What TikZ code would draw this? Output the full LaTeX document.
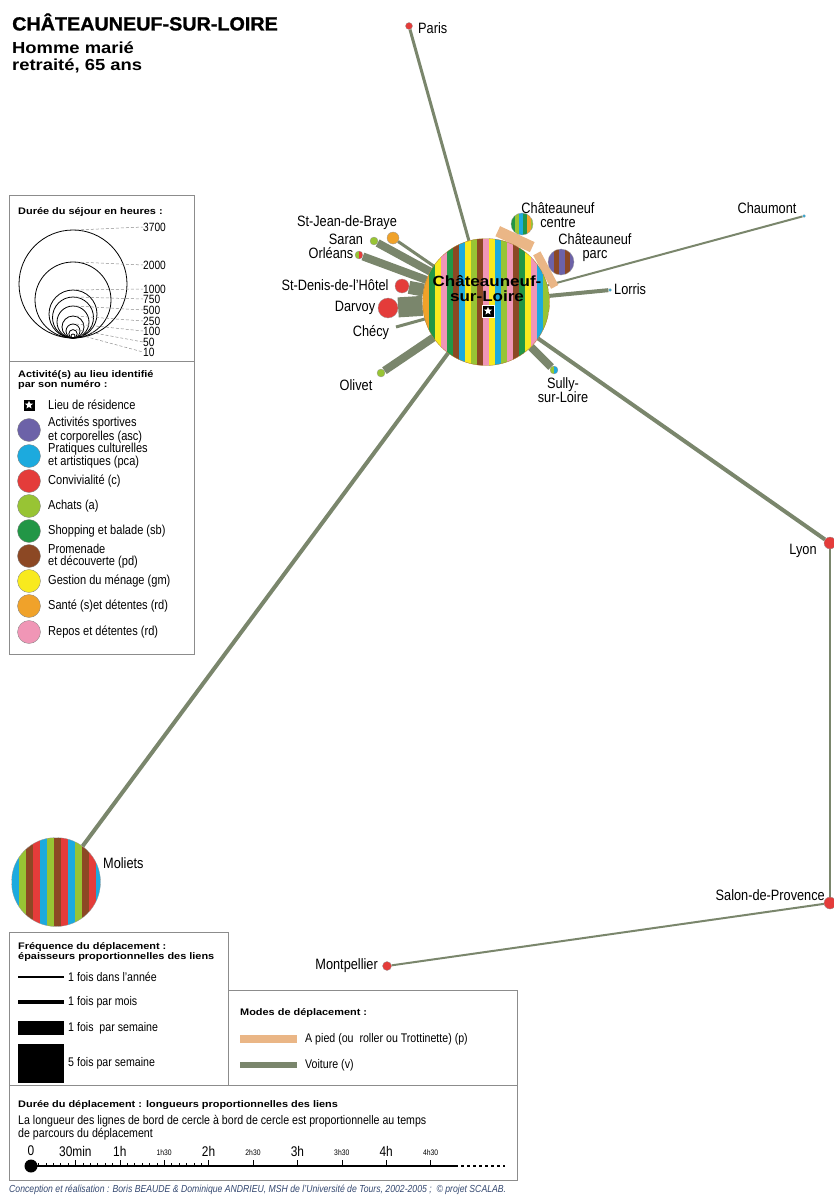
\documentclass[tikz,border=0pt]{standalone}
\usepackage{fontspec}
\setmainfont{Liberation Sans}[FakeStretch=0.85]
\newfontfamily\noirfont{Liberation Sans}[FakeStretch=1.15]
\newfontfamily\titrefont{Liberation Sans}[FakeStretch=1.04, FakeBold=1.2]
\usepackage{tikz}
\usetikzlibrary{shapes.geometric, backgrounds}

\definecolor{cvert}{RGB}{34,150,70}
\definecolor{cvertclair}{RGB}{152,196,52}
\definecolor{cjaune}{RGB}{248,234,30}
\definecolor{corange}{RGB}{240,162,42}
\definecolor{crose}{RGB}{240,150,182}
\definecolor{cbrun}{RGB}{140,72,36}
\definecolor{cbleu}{RGB}{28,170,222}
\definecolor{crouge}{RGB}{228,60,58}
\definecolor{cviolet}{RGB}{108,98,168}
\definecolor{voit}{RGB}{122,134,108}
\definecolor{pieton}{RGB}{234,182,134}
\definecolor{credit}{RGB}{52,72,112}

\begin{document}
\begin{tikzpicture}[x=1pt, y=-1pt,
    lieu/.style={circle, inner sep=0pt, minimum size=#1, draw=black!40, line width=0.3pt},
    rayures/.style 2 args={path picture={
        \foreach \c [count=\k from 0] in {#2}
          \fill[\c] ([xshift=\k*#1]path picture bounding box.south west)
            rectangle ([xshift=\k*#1+#1]path picture bounding box.north west);}},
    residence/.style={fill=black, draw=white, line width=0.6pt, minimum size=#1, inner sep=0pt,
        path picture={\node[star, star points=5, star point ratio=2.3, fill=white,
            inner sep=0pt, minimum size=0.72*#1] at (path picture bounding box.center) {};}},
    ville/.style={font=\fontsize{15}{14}\selectfont, inner sep=0pt, align=center},
    voiture/.style={draw=voit, line width=#1},
    pied/.style={draw=pieton, line width=#1},
    cadre/.style={draw=black!45, line width=0.8pt},
    titre/.style={font=\noirfont\bfseries\fontsize{9.5}{10}\selectfont, anchor=west,
        align=left, inner sep=0pt},
    lgd/.style={font=\fontsize{13}{12}\selectfont, anchor=west, align=left, inner sep=0pt},
    renvoi/.style={densely dashed, draw=black!45, line width=0.5pt},
]
\useasboundingbox (0,0) rectangle (833,1196);

%% Titre
\node[font=\titrefont\bfseries\fontsize{19}{20}\selectfont, anchor=west, inner sep=0pt]
    at (12,22) (titre) {CHÂTEAUNEUF-SUR-LOIRE};
\node[font=\noirfont\bfseries\fontsize{16}{17}\selectfont, anchor=west, align=left, inner sep=0pt]
    at (12,57) (profil) {Homme marié\\retraité, 65 ans};

%% Lieux
\node[lieu=127, draw=corange!70!black, rayures={6pt}{corange,cvert,cjaune,crose,cvert,cbrun,cbleu,cjaune,cvertclair,cbrun,crose,cjaune,cbleu,cvertclair,crose,cbrun,cvert,cjaune,crose,cbleu,cvertclair,corange}]
    at (486,302) (chat) {};
\node[lieu=89, rayures={7pt}{cbleu,cvertclair,cbrun,crouge,cbleu,cvertclair,cbrun,crouge,cbleu,cvertclair,cbrun,crouge,cbleu,cvertclair}]
    at (56,882) (moliets) {};
\node[lieu=22, rayures={4pt}{cvert,cvertclair,cbleu,cvert,corange,cvertclair}] at (522,224) (centre) {};
\node[lieu=26, rayures={5.5pt}{cviolet,cbrun,cviolet,cbrun,cviolet}] at (561,262) (parc) {};
\node[lieu=7, fill=crouge]      at (409,26)  (paris) {};
\node[lieu=3, fill=cbleu]       at (804,216) (chaumont) {};
\node[lieu=3, fill=cbleu]       at (610,290) (lorris) {};
\node[lieu=8, rayures={4pt}{cvertclair,cbleu}] at (554,370) (sully) {};
\node[lieu=12, fill=crouge]     at (830,543) (lyon) {};
\node[lieu=12, fill=crouge]     at (830,903) (salon) {};
\node[lieu=9, fill=crouge]      at (387,966) (montp) {};
\node[lieu=8, fill=cvertclair]  at (381,373) (olivet) {};
\coordinate (checy) at (396,327);
\node[lieu=20, fill=crouge]     at (388,308) (darvoy) {};
\node[lieu=14, fill=crouge]     at (402,286) (stdenis) {};
\node[lieu=8, rayures={4pt}{cvertclair,crouge}] at (359,255) (orleans) {};
\node[lieu=8, fill=cvertclair]  at (374,241) (saran) {};
\node[lieu=12, fill=corange]    at (393,238) (stjean) {};

%% Liens
\begin{scope}[on background layer]
\draw[voiture=3]  (paris) -- (chat);
\draw[voiture=2]  (chaumont) -- (chat);
\draw[voiture=4]  (lorris) -- (chat);
\draw[voiture=8]  (sully) -- (chat);
\draw[voiture=4]  (chat) -- (lyon);
\draw[voiture=2]  (lyon) -- (salon);
\draw[voiture=2]  (salon) -- (montp);
\draw[voiture=4]  (chat) -- (moliets);
\draw[voiture=8]  (olivet) -- (chat);
\draw[voiture=3]  (checy) -- (chat);
\draw[voiture=20] (darvoy) -- (chat);
\draw[voiture=13] (stdenis) -- (chat);
\draw[voiture=8]  (orleans) -- (chat);
\draw[voiture=8]  (saran) -- (chat);
\draw[voiture=3]  (stjean) -- (chat);
\draw[pied=38]    (centre) -- (chat);
\draw[pied=38]    (parc) -- (chat);
\end{scope}

%% Noms des lieux
\node[font=\noirfont\bfseries\fontsize{14.8}{15}\selectfont, align=center, inner sep=0pt]
    at (487,289) (nchat) {Châteauneuf-\\sur-Loire};
\node[residence=12] at (488,311) (res) {};
\node[ville, anchor=west] at (418,28)  (nparis) {Paris};
\node[ville] at (767,208) (nchaumont) {Chaumont};
\node[ville, anchor=west] at (614,289) (nlorris) {Lorris};
\node[ville] at (563,390) (nsully) {Sully-\\sur-Loire};
\node[ville] at (803,551) (nlyon) {Lyon};
\node[ville, anchor=east] at (825,895) (nsalon) {Salon-de-Provence};
\node[ville, anchor=east] at (378,966) (nmontp) {Montpellier};
\node[ville, anchor=west] at (103,863) (nmoliets) {Moliets};
\node[ville] at (356,385) (nolivet) {Olivet};
\node[ville] at (371,333) (nchecy) {Chécy};
\node[ville] at (355,308) (ndarvoy) {Darvoy};
\node[ville] at (335,285) (nstdenis) {St-Denis-de-l'Hôtel};
\node[ville] at (331,253) (norleans) {Orléans};
\node[ville] at (346,239) (nsaran) {Saran};
\node[ville] at (347,223) (nstjean) {St-Jean-de-Braye};
\node[ville] at (558,215) (ncentre) {Châteauneuf\\centre};
\node[ville] at (595,248) (nparc) {Châteauneuf\\parc};

%% Légende : durée du séjour
\draw[cadre] (9,195) rectangle (194,361);
\node[titre] at (18,212) (tsejour) {Durée du séjour en heures :};
\foreach \h/\r/\y in {3700/54/227, 2000/38/265, 1000/24/289, 750/20.5/299, 500/16/310,
                      250/11/321, 100/7/331, 50/4.2/342, 10/2/352} {
  \draw[line width=0.8pt] (73,338-\r) circle[radius=\r];
  \coordinate (c\h) at (76,338-2*\r);
  \node[font=\fontsize{12}{12}\selectfont, anchor=west, inner sep=0pt] at (143,\y) (s\h) {\h};
  \draw[renvoi] (c\h) -- (s\h.west);
}

%% Légende : activités
\draw[cadre] (9,361) rectangle (194,654);
\node[titre] at (18,380) (tact) {Activité(s) au lieu identifié\\par son numéro :};
\node[residence=12] at (29,405) (lres) {};
\node[lgd] at (48,405) (tres) {Lieu de résidence};
\foreach \nom/\col/\y/\txt in {
    asc/cviolet/430/{Activités sportives\\et corporelles (asc)},
    pca/cbleu/456/{Pratiques culturelles\\et artistiques (pca)},
    c/crouge/481/{Convivialité (c)},
    a/cvertclair/506/{Achats (a)},
    sb/cvert/531/{Shopping et balade (sb)},
    pd/cbrun/556/{Promenade\\et découverte (pd)},
    gm/cjaune/581/{Gestion du ménage (gm)},
    s/corange/606/{Santé (s)et détentes (rd)},
    rd/crose/632/{Repos et détentes (rd)}} {
  \node[lieu=23, fill=\col, draw=black!50] at (29,\y) (l\nom) {};
  \node[lgd] at (48,\y) (t\nom) {\txt};
}

%% Légende : fréquence
\draw[cadre] (9,932) rectangle (228,1085);
\node[titre] at (18,952) (tfreq) {Fréquence du déplacement :\\épaisseurs proportionnelles des liens};
\foreach \w/\y/\txt in {1.2/977/{1 fois dans l'année}, 4/1002/{1 fois par mois},
                        14/1028/{1 fois~ par semaine}, 39/1063/{5 fois par semaine}} {
  \draw[line width=\w] (18,\y) -- (64,\y);
  \node[lgd, font=\fontsize{12.5}{12}\selectfont] at (68,\y) (f\y) {\txt};
}

%% Légende : modes
\draw[cadre] (228,990) rectangle (517,1085);
\node[titre] at (240,1013) (tmodes) {Modes de déplacement :};
\draw[pied=8] (240,1039) -- (297,1039);
\node[lgd, font=\fontsize{12.5}{12}\selectfont] at (305,1039) (mpied) {A pied (ou~ roller ou Trottinette) (p)};
\draw[voiture=6] (240,1065) -- (297,1065);
\node[lgd, font=\fontsize{12.5}{12}\selectfont] at (305,1065) (mvoit) {Voiture (v)};

%% Légende : durée du déplacement
\draw[cadre] (9,1085) rectangle (517,1180);
\node[titre] at (18,1105) (tduree) {Durée du déplacement : longueurs proportionnelles des liens};
\node[lgd, font=\fontsize{12.5}{13}\selectfont] at (18,1128) (tlong)
    {La longueur des lignes de bord de cercle à bord de cercle est proportionnelle au temps\\de parcours du déplacement};
\fill (31,1166) circle[radius=6.5];
\draw[line width=1.6] (31,1166) -- (455,1166);
\draw[line width=1.6, dashed] (455,1166) -- (505,1166);
\foreach \i in {1,...,23} \draw[line width=0.4] (31+\i*44.4/6,1166) -- ++(0,-3);
\foreach \i in {1,...,9} \draw[line width=0.5] (31+\i*44.4,1166) -- ++(0,-6);
\foreach \i/\t in {0/0, 1/30min, 2/1h, 4/2h, 6/3h, 8/4h}
  \node[font=\fontsize{14}{14}\selectfont, inner sep=0pt] at (31+\i*44.4,1151) (g\i) {\t};
\foreach \i/\t in {3/1h30, 5/2h30, 7/3h30, 9/4h30}
  \node[font=\fontsize{8}{8}\selectfont, inner sep=0pt] at (31+\i*44.4,1153) (g\i) {\t};

%% Crédits
\node[font=\itshape\fontsize{10.2}{10}\selectfont, text=credit, anchor=west, inner sep=0pt]
    at (9,1190) (credits) {Conception et réalisation : Boris BEAUDE \& Dominique ANDRIEU, MSH de l'Université de Tours, 2002-2005 ;~ © projet SCALAB.};
\end{tikzpicture}
\end{document}
